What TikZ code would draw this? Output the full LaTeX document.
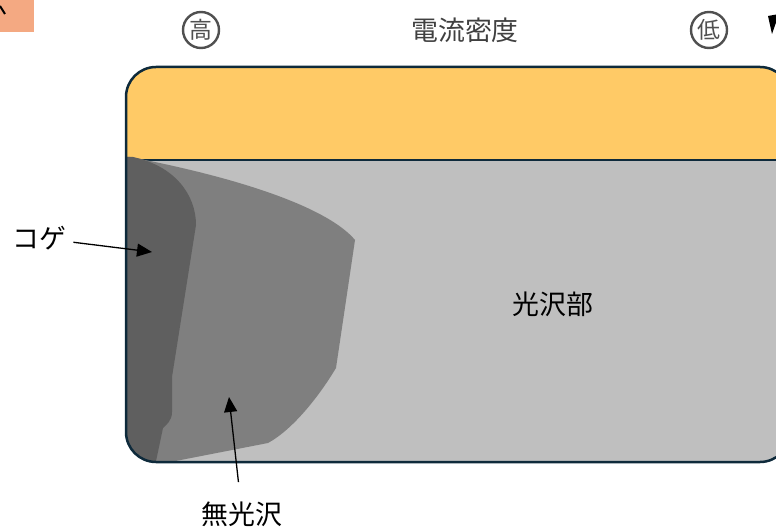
\documentclass[tikz,border=0pt]{standalone}
\usepackage{fontspec}
\setmainfont{Noto Sans CJK JP}
\usetikzlibrary{arrows.meta}
\definecolor{bandorange}{HTML}{FFCA66}
\definecolor{facegray}{HTML}{BFBFBF}
\definecolor{mattegray}{HTML}{7F7F7F}
\definecolor{burntgray}{HTML}{5F5F5F}
\definecolor{edgenavy}{HTML}{0E2A3B}
\definecolor{tabsalmon}{HTML}{F4A982}
\definecolor{textgray}{HTML}{404040}
\definecolor{ringgray}{HTML}{505050}

\begin{document}
\begin{tikzpicture}[x=1bp, y=-1bp,
        txt/.style={font=\fontsize{27}{30}\selectfont},
        ring/.style={draw=ringgray, line width=2.4bp, circle, minimum size=36bp, inner sep=0pt,
            text=ringgray, font=\fontsize{23}{25}\selectfont},
        edge/.style={draw=edgenavy, line width=2.5bp},
        arr/.style={line width=1.3bp, -{Triangle[length=15bp, width=13bp]}}]
            \useasboundingbox (0,0) rectangle (776,529);
            \fill [tabsalmon] (0,0) rectangle (34,32);
            \draw [line width=2bp] (0,6) -- (5,14);
            \fill (768,16) -- (779,14) -- (772,34) -- cycle;
            \node [ring] (high) at (201,30) {高};
            \node [ring] (low) at (709,30) {低};
            \node [txt, text=textgray] (density) at (465,30) {電流密度};
            \begin{scope}
                \clip [rounded corners=30bp] (126,67) rectangle (790,462);
                \fill [bandorange] (120,60) rectangle (800,160);
                \fill [facegray] (120,160) rectangle (800,470);
                \draw [edge] (120,160) -- (800,160);
                \fill [mattegray] (130,157) .. controls (250,180) and (330,210) .. (355,240)
                    -- (336,368) .. controls (318,398) and (292,430) .. (268,443)
                    -- (150,466) -- (120,466) -- (120,157) -- cycle;
                \fill [burntgray] (133,157) .. controls (175,166) and (196,195) .. (196,225)
                    -- (172,377) -- (172,412) .. controls (172,421) and (166,425) .. (163,428)
                    -- (155,466) -- (120,466) -- (120,157) -- cycle;
            \end{scope}
            \draw [edge, rounded corners=30bp] (126,67) rectangle (790,462);
            \node [txt] (gloss) at (553,304) {光沢部};
            \node [txt] (koge) at (39,238) {コゲ};
            \coordinate (kogeTip) at (152,252);
            \draw [arr, shorten <=4bp] (koge) -- (kogeTip);
            \node [txt] (matte) at (242,514) {無光沢};
            \coordinate (matteTip) at (229,397);
            \draw [arr, shorten <=16bp] (matte) -- (matteTip);
        \end{tikzpicture}
\end{document}
